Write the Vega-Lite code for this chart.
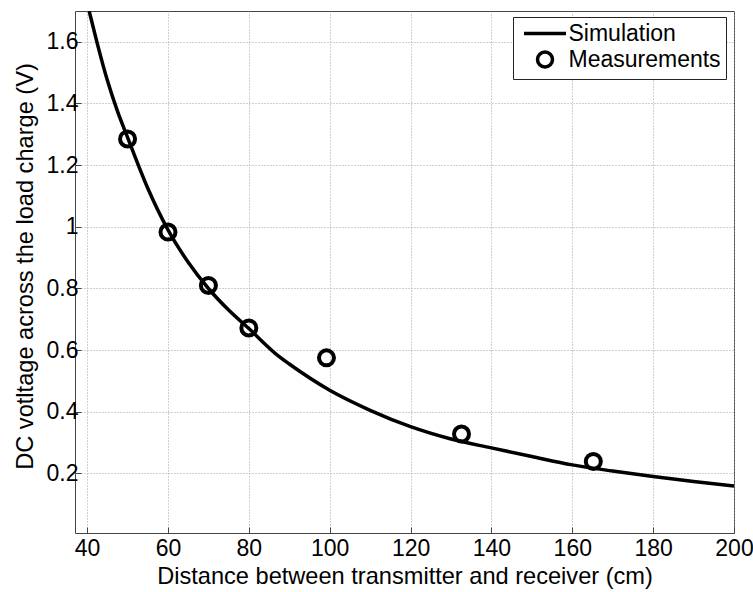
{
  "$schema": "https://vega.github.io/schema/vega-lite/v6.json",
  "width": 659,
  "height": 522,
  "autosize": {"type": "none"},
  "padding": {"left": 75, "top": 11, "right": 19, "bottom": 59},
  "background": "white",
  "config": {
    "font": "Liberation Sans",
    "view": {"stroke": "#444444", "strokeWidth": 1},
    "axis": {
      "domain": false,
      "grid": true,
      "gridColor": "#a0a0a0",
      "gridDash": [1, 2],
      "gridWidth": 1,
      "ticks": true,
      "tickSize": -6,
      "tickColor": "#444444",
      "labelFont": "Liberation Sans",
      "labelFontSize": 23,
      "labelColor": "black",
      "labelFlush": false,
      "titleFont": "Liberation Sans",
      "titleFontSize": 23.6,
      "titleFontWeight": "normal",
      "titleColor": "black"
    }
  },
  "datasets": {
    "sim": [
      {"d": 40.5, "v": 1.70},
      {"d": 42.5, "v": 1.595},
      {"d": 45, "v": 1.475},
      {"d": 47.5, "v": 1.375},
      {"d": 50, "v": 1.29},
      {"d": 55, "v": 1.125},
      {"d": 60, "v": 0.99},
      {"d": 65, "v": 0.885},
      {"d": 70, "v": 0.80},
      {"d": 75, "v": 0.73},
      {"d": 80, "v": 0.67},
      {"d": 87.6, "v": 0.578},
      {"d": 90, "v": 0.555},
      {"d": 100, "v": 0.47},
      {"d": 110, "v": 0.405},
      {"d": 120, "v": 0.352},
      {"d": 130, "v": 0.312},
      {"d": 140, "v": 0.283},
      {"d": 150, "v": 0.255},
      {"d": 160, "v": 0.228},
      {"d": 170, "v": 0.208},
      {"d": 180, "v": 0.19},
      {"d": 190, "v": 0.174},
      {"d": 200, "v": 0.159}
    ],
    "meas": [
      {"d": 50, "v": 1.285, "series": "Measurements"},
      {"d": 60, "v": 0.983, "series": "Measurements"},
      {"d": 70, "v": 0.81, "series": "Measurements"},
      {"d": 80, "v": 0.672, "series": "Measurements"},
      {"d": 99.2, "v": 0.575, "series": "Measurements"},
      {"d": 132.6, "v": 0.328, "series": "Measurements"},
      {"d": 165.2, "v": 0.239, "series": "Measurements"}
    ]
  },
  "layer": [
    {
      "data": {"name": "sim"},
      "mark": {"type": "line", "color": "black", "strokeWidth": 3.5, "clip": true, "interpolate": "monotone"},
      "encoding": {
        "x": {
          "field": "d", "type": "quantitative",
          "scale": {"domain": [37, 200], "nice": false, "zero": false},
          "axis": {"values": [40, 60, 80, 100, 120, 140, 160, 180, 200], "title": "Distance between transmitter and receiver (cm)", "labelPadding": 10, "titlePadding": 4}
        },
        "y": {
          "field": "v", "type": "quantitative",
          "scale": {"domain": [0.007, 1.7], "nice": false, "zero": false},
          "axis": {"values": [0.2, 0.4, 0.6, 0.8, 1, 1.2, 1.4, 1.6], "format": "~g", "title": "DC votltage across the load charge (V)", "labelPadding": 3, "titlePadding": 9, "titleY": 255}
        }
      }
    },
    {
      "data": {"name": "meas"},
      "mark": {"type": "point", "filled": false, "strokeWidth": 4, "size": 225, "opacity": 1, "color": "black"},
      "encoding": {
        "x": {"field": "d", "type": "quantitative"},
        "y": {"field": "v", "type": "quantitative"},
        "shape": {
          "field": "series", "type": "nominal",
          "scale": {"domain": ["Simulation", "Measurements"], "range": ["M-2.8,0H2.8", "circle"]},
          "legend": {
            "title": null,
            "orient": "none",
            "legendX": 438,
            "legendY": 6,
            "strokeColor": "#222222",
            "fillColor": "white",
            "padding": 5,
            "symbolOffset": 15.5,
            "symbolSize": 225,
            "symbolStrokeWidth": 3.5,
            "symbolStrokeColor": "black",
            "symbolFillColor": "transparent",
            "labelFontSize": 23,
            "labelFont": "Liberation Sans",
            "labelColor": "black",
            "labelOffset": 12,
            "rowPadding": -1
          }
        }
      }
    }
  ]
}
